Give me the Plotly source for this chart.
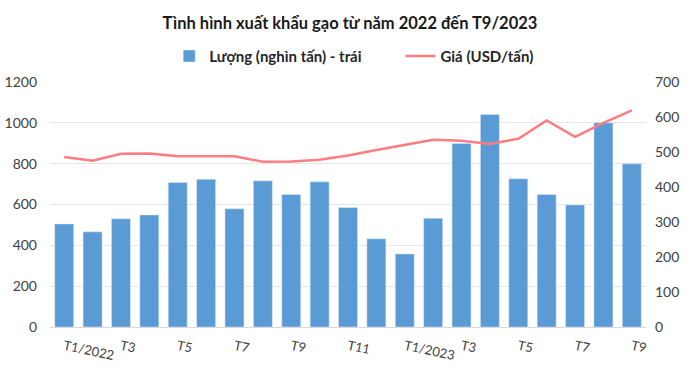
import plotly.graph_objects as go

months = ["T1/2022", "T2", "T3", "T4", "T5", "T6", "T7", "T8", "T9", "T10", "T11", "T12",
          "T1/2023", "T2", "T3", "T4", "T5", "T6", "T7", "T8", "T9"]
volume = [505, 466, 530, 549, 708, 724, 579, 716, 649, 711, 585, 432,
          358, 533, 899, 1041, 726, 649, 598, 1000, 799]
price = [486, 475, 495, 496, 488, 487, 488, 472, 473, 478, 490, 506,
         521, 535, 532, 523, 538, 590, 543, 583, 619]
tick_labels = ["T1/2022", "T3", "T5", "T7", "T9", "T11", "T1/2023", "T3", "T5", "T7", "T9"]

x = list(range(len(months)))
tick_idx = list(range(0, len(months), 2))

FONT = "Lato"
fig = go.Figure()
fig.add_trace(go.Bar(x=x, y=volume, name="<b>Lượng (nghìn tấn) - trái</b>",
                     marker=dict(color="#5B9BD5"), yaxis="y", legend="legend",
                     showlegend=True))
fig.add_trace(go.Scatter(x=x, y=price, name="<b>Giá (USD/tấn)</b>", mode="lines",
                         line=dict(color="#FF7C80", width=2.5), yaxis="y2",
                         legend="legend2", showlegend=True))

leg_common = dict(orientation="h", yanchor="middle", y=1.105, xanchor="left",
                  font=dict(family=FONT, size=15, color="#262626"),
                  itemwidth=30, bgcolor="rgba(0,0,0,0)", visible=True)

fig.update_layout(
    width=700, height=379,
    showlegend=True,
    margin=dict(l=50, r=54, t=82, b=52, autoexpand=False),
    paper_bgcolor="white", plot_bgcolor="white",
    font=dict(family=FONT, size=13, color="#404040"),
    title=dict(text="<b>Tình hình xuất khẩu gạo từ năm 2022 đến T9/2023</b>",
               x=0.5, xanchor="center", y=0.938, yanchor="middle",
               font=dict(family=FONT, size=16.5, color="#1a1a1a")),
    legend=dict(x=0.2, **leg_common),
    legend2=dict(x=0.588, **leg_common),
    bargap=0.33,
    xaxis=dict(range=[-0.5, len(months) - 0.5], tickmode="array",
               tickvals=tick_idx, ticktext=tick_labels, tickangle=12,
               showgrid=False, zeroline=False, showline=True,
               linecolor="#d9d9d9", ticks="", ticklabelstandoff=6,
               tickfont=dict(size=13, color="#404040")),
    yaxis=dict(range=[0, 1200], dtick=200, showgrid=True, gridcolor="#e6e6e6",
               zeroline=False, ticks="", ticklabelstandoff=12,
               tickfont=dict(size=14, color="#404040")),
    yaxis2=dict(range=[0, 700], dtick=100, overlaying="y", side="right",
                showgrid=False, zeroline=False, ticks="", ticklabelstandoff=8,
                tickfont=dict(size=14, color="#404040")),
)

fig.write_html("out.html", config={"displayModeBar": False},
               post_script="document.body.style.margin='0px';")
